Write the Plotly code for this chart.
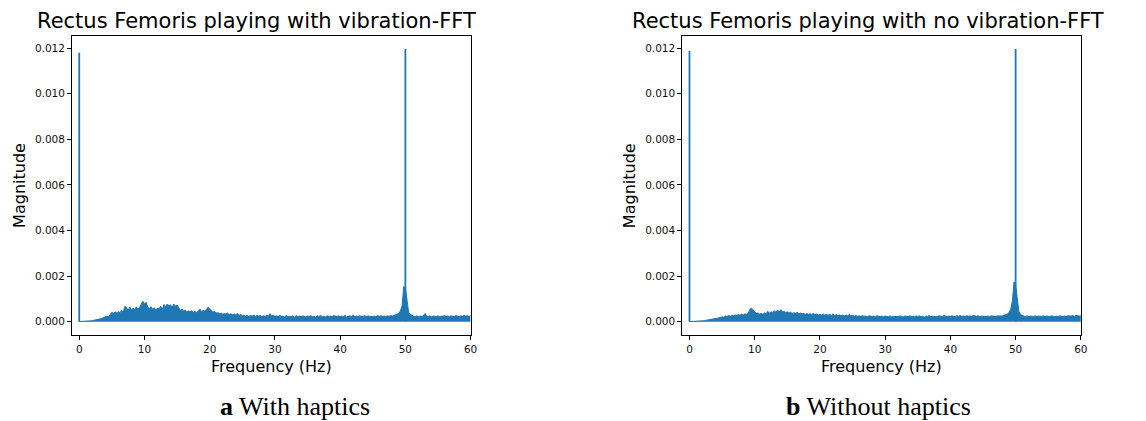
import plotly.graph_objects as go

# ---------------- data ----------------
freq_step = 0.25  # Hz between envelope samples, 0 .. 60 Hz
# Upper envelope of the FFT magnitude band, in units of 1e-4
mag_with_e4 = [
    0.1, 0.1, 0.1, 0.15, 0.2, 0.2, 0.3, 0.4, 0.5, 0.6, 0.8, 0.9, 1.0, 1.3, 1.5, 1.8, 2.0, 2.5, 2.2, 3.0,
    4.2, 3.5, 4.4, 3.8, 4.6, 3.9, 5.0, 4.2, 6.8, 6.2, 5.0, 6.5, 5.2, 6.0, 5.4, 6.6, 5.5, 6.2, 7.5, 9.0,
    7.8, 8.6, 6.4, 5.8, 6.6, 5.5, 6.2, 5.2, 6.0, 5.6, 6.8, 5.4, 7.6, 6.6, 7.8, 7.0, 7.4, 6.4, 7.8, 6.8,
    7.4, 5.8, 5.0, 5.6, 4.6, 5.2, 4.4, 4.8, 4.3, 4.9, 4.2, 4.6, 4.0, 4.8, 5.6, 4.4, 5.0, 4.6, 5.8, 6.4,
    5.6, 4.8, 4.2, 4.6, 3.8, 4.0, 3.5, 3.8, 3.3, 3.6, 3.4, 3.7, 3.2, 3.5, 3.1, 3.4, 3.0, 3.6, 2.8, 3.2,
    2.6, 2.9, 2.5, 2.8, 2.4, 2.7, 2.5, 2.9, 2.4, 2.8, 2.5, 2.7, 2.3, 2.6, 2.4, 2.8, 2.5, 3.6, 2.6, 2.9,
    2.4, 2.6, 2.2, 2.7, 2.3, 2.5, 2.1, 2.8, 2.3, 2.4, 2.2, 2.6, 2.0, 2.7, 2.3, 2.5, 2.2, 2.6, 2.4, 2.1,
    2.5, 2.3, 2.7, 2.2, 2.4, 2.0, 2.6, 2.3, 2.8, 2.2, 2.4, 2.1, 2.6, 2.3, 2.5, 2.2, 2.7, 2.4, 2.3, 2.6,
    2.2, 2.5, 2.3, 2.8, 2.1, 2.4, 2.6, 2.2, 3.0, 2.3, 2.5, 2.1, 2.6, 2.4, 2.3, 2.7, 2.2, 2.5, 2.4, 2.6,
    2.3, 2.5, 2.2, 2.7, 2.4, 2.6, 2.3, 2.5, 2.2, 2.6, 2.4, 2.7, 2.5, 2.8, 2.9, 3.3, 3.8, 4.8, 7.0, 15.5,
    15.0, 8.0, 4.2, 3.2, 2.7, 2.5, 2.3, 2.6, 2.2, 2.5, 2.3, 2.6, 3.6, 2.5, 2.3, 2.6, 2.2, 2.5, 2.4, 2.3,
    2.6, 2.2, 2.5, 2.4, 2.7, 2.3, 2.5, 2.2, 2.6, 2.4, 2.3, 2.7, 2.5, 2.2, 2.6, 2.4, 2.8, 2.5, 2.6, 2.4,
    2.6,
]
mag_without_e4 = [
    0.1, 0.1, 0.1, 0.15, 0.2, 0.2, 0.3, 0.35, 0.4, 0.5, 0.6, 0.7, 0.8, 0.9, 1.0, 1.2, 1.4, 1.6, 1.7, 1.9,
    2.2, 2.0, 2.5, 2.2, 2.8, 2.4, 2.9, 2.6, 3.0, 2.7, 3.2, 2.9, 3.4, 3.0, 3.5, 3.2, 3.6, 5.4, 6.0, 5.2,
    4.2, 3.6, 3.9, 3.4, 3.7, 3.3, 3.8, 3.4, 4.6, 3.8, 4.4, 4.0, 4.8, 4.2, 5.2, 4.4, 5.3, 4.3, 4.6, 4.0,
    4.4, 3.8, 4.2, 3.7, 4.0, 3.6, 4.2, 3.5, 3.8, 3.4, 3.7, 3.3, 3.6, 3.3, 3.5, 3.2, 3.6, 3.1, 3.4, 3.0,
    3.3, 3.0, 3.4, 2.9, 3.2, 2.9, 3.3, 2.8, 3.5, 2.8, 3.1, 2.7, 3.0, 2.7, 2.9, 2.6, 2.8, 2.6, 3.2, 2.7,
    2.8, 2.5, 2.7, 2.4, 2.6, 2.3, 2.7, 2.4, 2.5, 2.2, 2.6, 2.4, 2.3, 2.5, 2.2, 2.6, 2.4, 2.3, 2.5, 2.2,
    2.5, 2.3, 2.2, 2.6, 2.1, 2.4, 2.3, 2.5, 2.2, 2.6, 2.3, 2.1, 2.5, 2.4, 2.2, 2.6, 2.3, 2.4, 2.2, 2.5,
    2.3, 2.6, 2.2, 2.4, 2.1, 2.5, 2.3, 2.7, 2.2, 2.4, 2.3, 2.5, 2.2, 2.6, 2.4, 2.3, 2.8, 2.4, 2.2, 2.5,
    2.3, 2.6, 2.4, 2.2, 2.7, 2.3, 2.8, 2.4, 2.5, 2.2, 2.7, 2.4, 2.6, 2.3, 2.8, 2.5, 2.4, 2.6, 2.3, 2.5,
    2.4, 2.6, 2.3, 2.5, 2.2, 2.6, 2.4, 2.5, 2.3, 2.6, 2.4, 2.5, 2.6, 2.8, 2.9, 3.4, 4.2, 5.5, 9.0, 17.5,
    16.0, 10.0, 4.5, 3.2, 2.7, 2.5, 2.3, 2.6, 2.2, 2.5, 2.4, 2.3, 2.6, 2.2, 2.5, 2.4, 2.3, 2.6, 2.2, 2.5,
    2.4, 2.3, 2.6, 2.4, 2.2, 2.5, 2.3, 2.6, 2.4, 2.2, 2.5, 2.3, 2.6, 2.4, 2.5, 2.7, 2.4, 2.8, 2.6, 2.5,
    2.6,
]
# Narrow spikes (DC component and 50 Hz mains)
peak_freq = [0.0, 50.0]
peak_with = [0.0118, 0.01196]
peak_without = [0.01188, 0.01196]

titles = ["Rectus Femoris playing with vibration-FFT",
          "Rectus Femoris playing with no vibration-FFT"]
captions = ["<b>a</b> With haptics", "<b>b</b> Without haptics"]
x_label = "Frequency (Hz)"
y_label = "Magnitude"
x_ticks = [0, 10, 20, 30, 40, 50, 60]
y_ticks = [0.000, 0.002, 0.004, 0.006, 0.008, 0.010, 0.012]

# ---------------- figure ----------------
W, H = 1146, 421
BLUE = "#1f77b4"

freq = [i * freq_step for i in range(len(mag_with_e4))]

fig = go.Figure()

panels = [
    dict(mag=mag_with_e4, peaks=peak_with, x0=72.5, x1=473.5, xa="x", ya="y",
         title_cx=258, cap_cx=297),
    dict(mag=mag_without_e4, peaks=peak_without, x0=686.5, x1=1087.5, xa="x2", ya="y2",
         title_cx=873, cap_cx=884),
]
top_px, bot_px = 36, 335

def px_x(p):
    return p / W

def px_y(p):
    return 1 - p / H

annotations = []
for i, p in enumerate(panels):
    mags = [v * 1e-4 for v in p["mag"]]
    fig.add_trace(go.Scatter(x=freq, y=mags, mode="lines", fill="tozeroy",
                             fillcolor=BLUE, line=dict(color=BLUE, width=1),
                             xaxis=p["xa"], yaxis=p["ya"], showlegend=False,
                             hoverinfo="skip"))
    sx, sy = [], []
    for f, m in zip(peak_freq, p["peaks"]):
        sx += [f, f, None]
        sy += [0, m, None]
    fig.add_trace(go.Scatter(x=sx, y=sy, mode="lines",
                             line=dict(color=BLUE, width=1.8),
                             xaxis=p["xa"], yaxis=p["ya"], showlegend=False,
                             hoverinfo="skip"))
    axis_common = dict(showline=True, linecolor="black", linewidth=1, mirror=True,
                       ticks="outside", ticklen=4, tickwidth=1, tickcolor="black",
                       showgrid=False, zeroline=False,
                       tickfont=dict(family="DejaVu Sans", size=10.5, color="#111"))
    suffix = "" if i == 0 else "2"
    fig.update_layout(**{
        "xaxis" + suffix: dict(domain=[px_x(p["x0"]), px_x(p["x1"])], range=[-1.1, 60],
                               tickvals=x_ticks, anchor="y" + suffix, **axis_common),
        "yaxis" + suffix: dict(domain=[px_y(bot_px), px_y(top_px)], range=[-0.00058, 0.01253],
                               tickvals=y_ticks, tickformat=".3f", anchor="x" + suffix,
                               **axis_common),
    })
    cx = (p["x0"] + p["x1"]) / 2
    annotations += [
        dict(text=titles[i], x=px_x(p["title_cx"]), y=px_y(21), xref="paper", yref="paper",
             xanchor="center", yanchor="middle", showarrow=False,
             font=dict(family="DejaVu Sans", size=21, color="black")),
        dict(text=x_label, x=px_x(cx), y=px_y(366), xref="paper", yref="paper",
             xanchor="center", yanchor="middle", showarrow=False,
             font=dict(family="DejaVu Sans", size=16, color="black")),
        dict(text=y_label, x=px_x(p["x0"] - 53), y=px_y((top_px + bot_px) / 2),
             xref="paper", yref="paper", xanchor="center", yanchor="middle",
             textangle=-90, showarrow=False,
             font=dict(family="DejaVu Sans", size=16, color="black")),
        dict(text=captions[i], x=px_x(p["cap_cx"]), y=px_y(406), xref="paper", yref="paper",
             xanchor="center", yanchor="middle", showarrow=False,
             font=dict(family="Liberation Serif", size=26, color="black")),
    ]

fig.update_layout(width=W, height=H, margin=dict(l=0, r=0, t=0, b=0),
                  paper_bgcolor="white", plot_bgcolor="white",
                  annotations=annotations)

fig.write_html("out.html", config={"displayModeBar": False},
               post_script="document.body.style.margin='0px';document.body.style.overflow='hidden';")
